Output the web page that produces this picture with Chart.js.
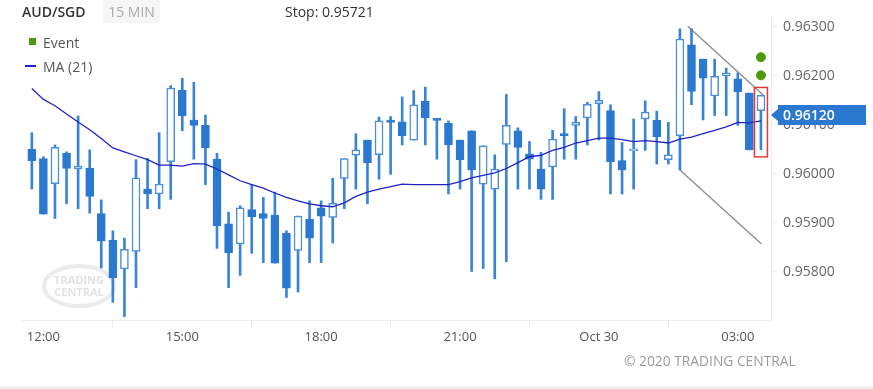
<!DOCTYPE html>
<html>
<head>
<meta charset="utf-8">
<script src="https://cdn.jsdelivr.net/npm/chart.js@4.4.1/dist/chart.umd.min.js"></script>
<style>
  body { margin: 0; background: #fff; font-family: "Open Sans", sans-serif; }
  #wrap { position: relative; width: 873px; height: 389px; overflow: hidden; }
  #chart { position: absolute; left: 0; top: 0; }
  .txt { position: absolute; white-space: nowrap; font-size: 14px; }
  #pair { left: 22px; top: 2px; color: #333; font-weight: 600; }
  #tf { left: 103px; top: 0; width: 57px; height: 23px; line-height: 23px; text-align: center; color: #aaa; background: #f6f6f6; border-radius: 3px; }
  #stop { left: 285px; top: 2px; color: #333; }
  #lgEvent { left: 43px; top: 33px; color: #555; }
  #lgMa { left: 43px; top: 57px; color: #555; }
  #sqEvent { position: absolute; left: 29px; top: 38px; width: 7px; height: 7px; background: #4c9a0a; }
  #lnMa { position: absolute; left: 25px; top: 65px; width: 11px; height: 2px; background: #2424c8; }
  #copy { left: 624px; top: 351px; color: #9a9a9a; font-size: 13.8px; }
  #strip { position: absolute; left: 0; top: 386px; width: 873px; height: 3px; background: #f0f0f0; }
</style>
</head>
<body>
<div id="wrap">
  <canvas id="chart" width="873" height="389"></canvas>
  <div class="txt" id="pair">AUD/SGD</div>
  <div class="txt" id="tf">15 MIN</div>
  <div class="txt" id="stop">Stop: 0.95721</div>
  <div id="sqEvent"></div>
  <div class="txt" id="lgEvent">Event</div>
  <div id="lnMa"></div>
  <div class="txt" id="lgMa">MA (21)</div>
  <div class="txt" id="copy">© 2020 TRADING CENTRAL</div>
  <div id="strip"></div>
</div>
<script>
// 15 min candles, 11:45 -> 03:30
const openVals = [0.96050,0.96031,0.95980,0.96042,0.96010,0.96012,0.95919,0.95865,0.95806,0.95842,0.95969,0.95959,
  0.96025,0.96171,0.96110,0.96099,0.96030,0.95898,0.95857,0.95927,0.95919,0.95916,0.95879,0.95844,0.95908,
  0.95931,0.95911,0.95991,0.96038,0.96069,0.96039,0.96110,0.96106,0.96069,0.96148,0.96110,0.96103,0.96069,
  0.96088,0.95979,0.95969,0.96060,0.96088,0.96041,0.96010,0.96014,0.96082,0.96099,0.96114,0.96143,
  0.96129,0.96027,0.96047,0.96112,0.96110,0.96029,0.96078,0.96263,0.96234,0.96159,0.96200,0.96194,0.96165,0.96129];
const highVals = [0.96084,0.96035,0.96059,0.96045,0.96118,0.96049,0.95947,0.95884,0.95869,0.96029,0.96032,0.96084,
  0.96180,0.96195,0.96187,0.96120,0.96042,0.95922,0.95935,0.95978,0.95952,0.95963,0.95884,0.95914,0.95945,
  0.95945,0.95991,0.96031,0.96082,0.96069,0.96116,0.96117,0.96157,0.96170,0.96177,0.96110,0.96108,0.96069,
  0.96088,0.96057,0.96039,0.96162,0.96094,0.96066,0.96044,0.96089,0.96133,0.96117,0.96146,0.96168,
  0.96141,0.96064,0.96112,0.96149,0.96128,0.96105,0.96296,0.96296,0.96234,0.96234,0.96216,0.96206,0.96165,0.96160];
const lowVals = [0.95969,0.95918,0.95909,0.95939,0.95929,0.95920,0.95808,0.95738,0.95709,0.95768,0.95929,0.95929,
  0.95948,0.96088,0.96030,0.95978,0.95848,0.95768,0.95793,0.95838,0.95819,0.95818,0.95748,0.95759,0.95819,
  0.95819,0.95859,0.95929,0.95969,0.95939,0.95989,0.95999,0.96059,0.96069,0.96059,0.96030,0.95959,0.95969,
  0.95801,0.95807,0.95786,0.95821,0.95969,0.95969,0.95948,0.95948,0.96030,0.96030,0.96059,0.96069,
  0.95959,0.95959,0.95969,0.96048,0.96020,0.96020,0.96008,0.96141,0.96110,0.96119,0.96119,0.96099,0.96049,0.96049];
const closeVals = [0.96027,0.95918,0.96054,0.96011,0.96016,0.95954,0.95863,0.95788,0.95846,0.95992,0.95959,0.95979,
  0.96175,0.96118,0.96099,0.96053,0.95894,0.95839,0.95931,0.95913,0.95909,0.95818,0.95767,0.95914,0.95869,
  0.95914,0.95940,0.96031,0.96049,0.96023,0.96108,0.96105,0.96078,0.96141,0.96114,0.96109,0.96059,0.96029,
  0.96008,0.96057,0.96010,0.96099,0.96054,0.96030,0.95969,0.96071,0.96078,0.96105,0.96142,0.96150,
  0.96025,0.96008,0.96049,0.96126,0.96076,0.96039,0.96275,0.96168,0.96195,0.96199,0.96206,0.96167,0.96049,0.96160];
const maVals = [0.96174,0.96152,0.96139,0.96122,0.96106,0.96090,0.96072,0.96053,0.96045,0.96037,0.96029,0.96018,
  0.96018,0.96016,0.96021,0.96020,0.96010,0.95998,0.95986,0.95978,0.95971,0.95961,0.95952,0.95945,0.95939,
  0.95935,0.95933,0.95941,0.95954,0.95963,0.95969,0.95974,0.95979,0.95978,0.95978,0.95978,0.95978,0.95984,
  0.95992,0.95997,0.96002,0.96011,0.96023,0.96035,0.96038,0.96048,0.96054,0.96063,0.96068,0.96073,
  0.96073,0.96070,0.96066,0.96068,0.96066,0.96063,0.96071,0.96075,0.96082,0.96089,0.96096,0.96105,0.96104,0.96108];

const xTickIdx = [1, 13, 25, 37, 49, 61];
const xTickLabels = ['12:00', '15:00', '18:00', '21:00', 'Oct 30', '03:00'];
const yTicks = [0.958, 0.959, 0.960, 0.961, 0.962, 0.963];

const eventIdx = 63;
const eventVals = [0.96238, 0.96201];
const upperTrend = [[56.67, 0.96301], [63.2, 0.96161]];
const lowerTrend = [[56.0, 0.96008], [63.05, 0.95857]];
const lastPrice = 0.96120;

const FILL = '#2b78d0';
const HOLLOW_EDGE = '#4a8edc';
const WICK = '#3a84d7';

const idx = openVals.map((_, i) => i);
const isUp = idx.map(i => closeVals[i] > openVals[i]);

const overlay = {
  id: 'overlay',
  beforeDatasetsDraw(chart) {
    // watermark
    const c = chart.ctx;
    c.save();
    c.strokeStyle = '#ebebeb';
    c.lineWidth = 4;
    c.beginPath();
    c.ellipse(79, 286, 35, 20, 0, 0, Math.PI * 2);
    c.stroke();
    c.fillStyle = '#e2e2e2';
    c.font = 'bold 11px "Open Sans"';
    c.textAlign = 'center';
    c.textBaseline = 'middle';
    c.fillText('TRADING', 79, 281);
    c.fillText('CENTRAL', 79, 293);
    c.restore();
  },
  afterDraw(chart) {
    const c = chart.ctx;
    const xs = chart.scales.x, ys = chart.scales.y;
    c.save();
    // box around the last candle
    const xl = xs.getPixelForValue(idx.length - 1);
    const top = ys.getPixelForValue(highVals[idx.length - 1]) - 8;
    const bot = ys.getPixelForValue(lowVals[idx.length - 1]) + 7;
    c.strokeStyle = '#e53935';
    c.lineWidth = 1.5;
    c.strokeRect(xl - 6.5, top, 13, bot - top);
    // current price tag
    const py = Math.round(ys.getPixelForValue(lastPrice));
    c.fillStyle = FILL;
    c.beginPath();
    c.moveTo(771, py);
    c.lineTo(778, py - 6);
    c.lineTo(778, py - 10);
    c.lineTo(866, py - 10);
    c.lineTo(866, py + 10);
    c.lineTo(778, py + 10);
    c.lineTo(778, py + 6);
    c.closePath();
    c.fill();
    c.fillStyle = '#fff';
    c.font = '600 14px "Open Sans"';
    c.textBaseline = 'middle';
    c.fillText(lastPrice.toFixed(5), 783, py + 1);
    c.restore();
  }
};

new Chart(document.getElementById('chart'), {
  type: 'bar',
  data: {
    datasets: [
      {
        type: 'line',
        data: idx.map(i => ({ x: i, y: maVals[i] })),
        borderColor: '#2222c4',
        borderWidth: 1.3,
        pointRadius: 0,
        tension: 0,
        order: 0
      },
      {
        type: 'scatter',
        data: eventVals.map(v => ({ x: eventIdx, y: v })),
        backgroundColor: '#4c9a0a',
        borderColor: '#4c9a0a',
        pointRadius: 4.5,
        order: 0
      },
      {
        type: 'line',
        data: upperTrend.map(p => ({ x: p[0], y: p[1] })),
        borderColor: '#8a8a8a',
        borderWidth: 1.3,
        pointRadius: 0,
        order: 3
      },
      {
        type: 'line',
        data: lowerTrend.map(p => ({ x: p[0], y: p[1] })),
        borderColor: '#8a8a8a',
        borderWidth: 1.3,
        pointRadius: 0,
        order: 3
      },
      {
        data: idx.map(i => ({ x: i, y: [openVals[i], closeVals[i]] })),
        backgroundColor: idx.map(i => isUp[i] ? '#ffffff' : FILL),
        borderColor: idx.map(i => isUp[i] ? HOLLOW_EDGE : FILL),
        borderWidth: 1.5,
        borderSkipped: false,
        barThickness: 8,
        minBarLength: 2,
        grouped: false,
        order: 1
      },
      {
        data: idx.map(i => ({ x: i, y: [lowVals[i], highVals[i]] })),
        backgroundColor: WICK,
        borderWidth: 0,
        barThickness: 2,
        grouped: false,
        order: 2
      }
    ]
  },
  options: {
    responsive: false,
    animation: false,
    devicePixelRatio: 1,
    layout: { padding: { left: 22, top: 17, right: 0, bottom: 39 } },
    plugins: { legend: { display: false }, tooltip: { enabled: false } },
    scales: {
      x: {
        type: 'linear',
        min: -0.85,
        max: 63.87,
        offset: false,
        afterBuildTicks: s => { s.ticks = xTickIdx.map(v => ({ value: v })); },
        afterFit: s => { s.height = 30; },
        ticks: {
          autoSkip: false,
          maxRotation: 0,
          padding: 1,
          color: '#555',
          font: { family: 'Open Sans', size: 13 },
          callback: v => xTickLabels[xTickIdx.indexOf(v)]
        },
        grid: { drawOnChartArea: false, tickLength: 8, color: '#ececec' },
        border: { color: '#ececec' }
      },
      y: {
        type: 'linear',
        position: 'right',
        min: 0.95702,
        max: 0.9632,
        afterBuildTicks: s => { s.ticks = yTicks.map(v => ({ value: v })); },
        afterFit: s => { s.width = 102; },
        ticks: {
          padding: 6,
          color: '#666',
          font: { family: 'Open Sans', size: 14 },
          callback: v => v.toFixed(5)
        },
        grid: { drawOnChartArea: false, tickLength: 6, color: '#ececec' },
        border: { color: '#ececec' }
      }
    }
  },
  plugins: [overlay]
});
</script>
</body>
</html>
